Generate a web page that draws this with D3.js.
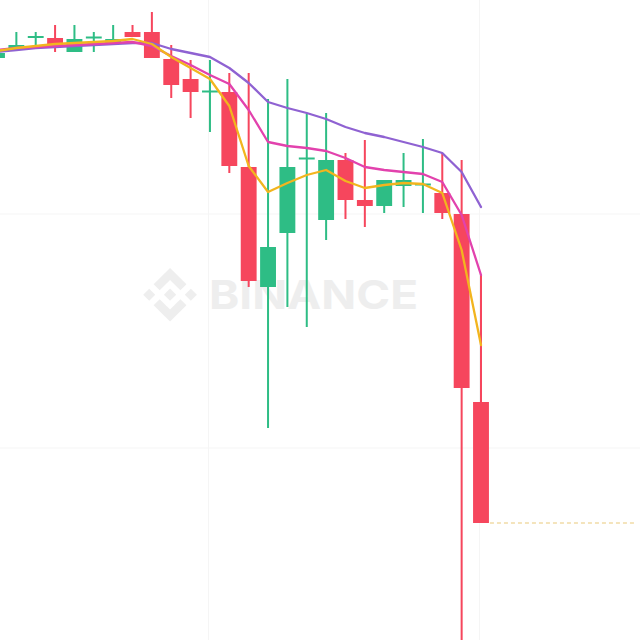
<!DOCTYPE html>
<html>
<head>
<meta charset="utf-8">
<script src="https://cdn.jsdelivr.net/npm/d3@7"></script>
<style>
  html, body { margin: 0; padding: 0; background: #ffffff; }
  svg { display: block; }
</style>
</head>
<body>
<svg id="chart" width="640" height="640"></svg>
<script>
// ---- data ----
const candleIndex = d3.range(26);
const opens  = [94.2, 95.1, 96.3, 96.2, 94.8, 96.25, 95.7, 96.8, 96.8, 94.1, 92.1, 90.85, 90.8, 83.3, 71.3, 76.7, 84.15, 78.0, 84.0, 80.0, 79.4, 81.4, 81.55, 80.7, 78.6, 59.8];
const highs  = [94.9, 96.8, 96.8, 97.5, 97.5, 96.8, 97.5, 97.5, 98.8, 95.5, 94.0, 94.0, 92.7, 92.7, 90.1, 92.1, 88.6, 88.7, 84.7, 86.0, 82.0, 84.7, 86.1, 84.7, 84.0, 72.5];
const lows   = [94.1, 95.1, 95.3, 94.8, 94.8, 94.8, 95.5, 96.3, 94.2, 90.2, 88.2, 86.8, 82.7, 71.3, 57.2, 69.3, 67.3, 76.0, 78.1, 77.3, 78.7, 79.3, 78.7, 78.1, 35.0, 47.7];
const closes = [94.7, 95.5, 96.4, 95.5, 96.1, 96.35, 96.1, 96.3, 94.2, 91.5, 90.8, 90.95, 83.4, 71.9, 75.3, 83.3, 84.25, 84.0, 80.0, 79.4, 82.0, 82.0, 81.65, 78.7, 61.2, 47.7];

const ma7  = [94.9, 95.2, 95.4, 95.6, 95.7, 95.8, 95.9, 96.1, 95.6, 94.3, 93.2, 92.1, 89.4, 83.4, 80.8, 81.7, 82.5, 83.0, 81.9, 81.2, 81.5, 81.7, 81.6, 80.7, 75.0, 65.5];
const ma25 = [95.0, 95.2, 95.3, 95.4, 95.5, 95.6, 95.7, 95.8, 95.4, 94.4, 93.5, 92.5, 91.6, 89.0, 85.8, 85.4, 85.2, 84.9, 84.2, 83.3, 83.0, 82.8, 82.6, 81.8, 78.5, 72.5];
const ma99 = [94.8, 95.0, 95.2, 95.3, 95.4, 95.5, 95.6, 95.7, 95.7, 95.1, 94.7, 94.3, 93.2, 91.7, 89.8, 89.2, 88.7, 88.1, 87.3, 86.7, 86.3, 85.8, 85.3, 84.7, 82.8, 79.3];

const priceGrid = [78.6, 55.2];
const timeGrid = [11, 25];
const lastPrice = closes[closes.length - 1];
const watermarkText = "BINANCE";

// ---- scales ----
const W = 640, H = 640;
const x = d3.scaleLinear().domain([0, 25]).range([-3, 481]);
const y = d3.scaleLinear().domain([36, 100]).range([H, 0]);
const step = x(1) - x(0);
const bodyW = step * 0.82;

const UP = "#2ebd85", DOWN = "#f6465d";

const svg = d3.select("#chart");
svg.append("rect").attr("width", W).attr("height", H).attr("fill", "#ffffff");

// gridlines
svg.append("g").selectAll("line").data(priceGrid).join("line")
  .attr("x1", 0).attr("x2", W)
  .attr("y1", d => y(d)).attr("y2", d => y(d))
  .attr("stroke", "#f5f5f5").attr("stroke-width", 1);
svg.append("g").selectAll("line").data(timeGrid).join("line")
  .attr("y1", 0).attr("y2", H)
  .attr("x1", d => x(d) - 1.5).attr("x2", d => x(d) - 1.5)
  .attr("stroke", "#f5f5f5").attr("stroke-width", 1);

// watermark
const wm = svg.append("g").attr("fill", "#eeeeee");
wm.append("path")
  .attr("transform", "translate(143.8,268.5) scale(0.41)")
  .attr("d", "M38.73 53.2L64 27.93l25.28 25.28 14.7-14.7L64 -1.47 24.03 38.5l14.7 14.7zM-1.47 64l14.7-14.7L27.93 64l-14.7 14.7L-1.47 64zm40.2 10.8L64 100.07l25.28-25.28 14.71 14.7L64 129.47 24.03 89.5l14.7-14.7zM100.07 64l14.7-14.7 14.7 14.7-14.7 14.7-14.7-14.7zM78.9 64L64 49.08 49.1 64 64 78.91z");
wm.append("text")
  .attr("x", 209).attr("y", 309)
  .attr("font-family", "Inter, Roboto, 'DejaVu Sans', sans-serif")
  .attr("font-weight", 700)
  .attr("font-size", 40)
  .attr("textLength", 209)
  .attr("lengthAdjust", "spacingAndGlyphs")
  .text(watermarkText);

// candles
const data = candleIndex.map(i => ({ i, o: opens[i], h: highs[i], l: lows[i], c: closes[i] }));
const cg = svg.append("g");
const cand = cg.selectAll("g").data(data).join("g");
cand.append("rect")
  .attr("x", d => x(d.i) - 1)
  .attr("width", 2)
  .attr("y", d => y(d.h))
  .attr("height", d => Math.max(1, y(d.l) - y(d.h)))
  .attr("fill", d => d.c >= d.o ? UP : DOWN);
cand.append("rect")
  .attr("x", d => x(d.i) - bodyW / 2)
  .attr("width", bodyW)
  .attr("y", d => y(Math.max(d.o, d.c)))
  .attr("height", d => Math.max(2, Math.abs(y(d.o) - y(d.c))))
  .attr("fill", d => d.c >= d.o ? UP : DOWN);

// moving averages
const line = d3.line().x((d, i) => x(i)).y(d => y(d));
const maSeries = [
  { vals: ma99, color: "#8f62d2" },
  { vals: ma25, color: "#e242ad" },
  { vals: ma7,  color: "#f2b51e" }
];
svg.append("g").selectAll("path").data(maSeries).join("path")
  .attr("d", d => line(d.vals))
  .attr("fill", "none")
  .attr("stroke", d => d.color)
  .attr("stroke-width", 2.3)
  .attr("stroke-linejoin", "round")
  .attr("stroke-linecap", "round");

// last price dashed line
svg.append("line")
  .attr("x1", x(25) + bodyW / 2 + 1).attr("x2", 636)
  .attr("y1", y(lastPrice)).attr("y2", y(lastPrice))
  .attr("stroke", "#f1dba6").attr("stroke-width", 1.5)
  .attr("stroke-dasharray", "4,3");
</script>
</body>
</html>
